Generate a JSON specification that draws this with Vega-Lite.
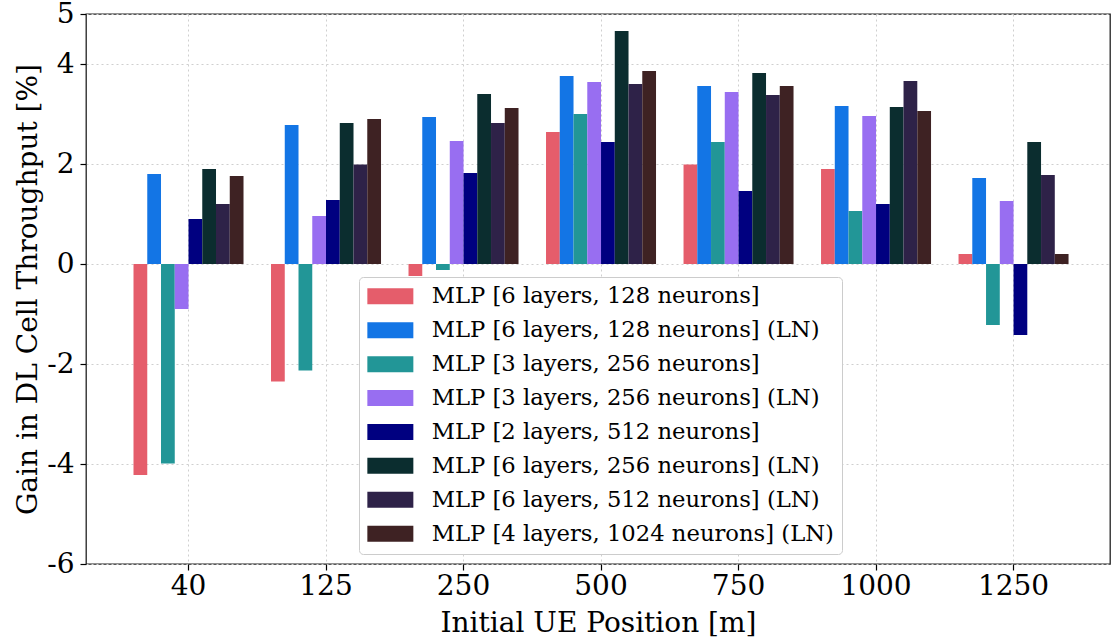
{
  "$schema": "https://vega.github.io/schema/vega-lite/v6.json",
  "width": 1024,
  "height": 550,
  "autosize": {"type": "none"},
  "padding": {"left": 86, "top": 14, "right": 1, "bottom": 76},
  "background": "white",
  "config": {
    "font": "DejaVu Serif",
    "view": {"stroke": "#222222", "strokeWidth": 1.3},
    "axis": {
      "labelFont": "DejaVu Serif",
      "titleFont": "DejaVu Serif",
      "labelFontSize": 28,
      "titleFontSize": 28,
      "titleFontWeight": "normal",
      "labelColor": "#000000",
      "titleColor": "#000000",
      "tickColor": "#000000",
      "domainColor": "#000000",
      "gridColor": "#cfcfcf",
      "gridDash": [2, 3],
      "gridWidth": 1,
      "tickSize": 6,
      "tickWidth": 1.2,
      "domain": false
    },
    "legend": {
      "labelFont": "DejaVu Serif",
      "labelFontSize": 22.7,
      "labelColor": "#000000"
    }
  },
  "data": {
    "values": [
      {"pos": "40", "model": "MLP [6 layers, 128 neurons]", "gain": -4.22},
      {"pos": "40", "model": "MLP [6 layers, 128 neurons] (LN)", "gain": 1.8},
      {"pos": "40", "model": "MLP [3 layers, 256 neurons]", "gain": -3.99},
      {"pos": "40", "model": "MLP [3 layers, 256 neurons] (LN)", "gain": -0.9},
      {"pos": "40", "model": "MLP [2 layers, 512 neurons]", "gain": 0.9},
      {"pos": "40", "model": "MLP [6 layers, 256 neurons] (LN)", "gain": 1.9},
      {"pos": "40", "model": "MLP [6 layers, 512 neurons] (LN)", "gain": 1.2},
      {"pos": "40", "model": "MLP [4 layers, 1024 neurons] (LN)", "gain": 1.76},

      {"pos": "125", "model": "MLP [6 layers, 128 neurons]", "gain": -2.35},
      {"pos": "125", "model": "MLP [6 layers, 128 neurons] (LN)", "gain": 2.78},
      {"pos": "125", "model": "MLP [3 layers, 256 neurons]", "gain": -2.13},
      {"pos": "125", "model": "MLP [3 layers, 256 neurons] (LN)", "gain": 0.96},
      {"pos": "125", "model": "MLP [2 layers, 512 neurons]", "gain": 1.28},
      {"pos": "125", "model": "MLP [6 layers, 256 neurons] (LN)", "gain": 2.82},
      {"pos": "125", "model": "MLP [6 layers, 512 neurons] (LN)", "gain": 1.99},
      {"pos": "125", "model": "MLP [4 layers, 1024 neurons] (LN)", "gain": 2.9},

      {"pos": "250", "model": "MLP [6 layers, 128 neurons]", "gain": -0.24},
      {"pos": "250", "model": "MLP [6 layers, 128 neurons] (LN)", "gain": 2.94},
      {"pos": "250", "model": "MLP [3 layers, 256 neurons]", "gain": -0.12},
      {"pos": "250", "model": "MLP [3 layers, 256 neurons] (LN)", "gain": 2.46},
      {"pos": "250", "model": "MLP [2 layers, 512 neurons]", "gain": 1.82},
      {"pos": "250", "model": "MLP [6 layers, 256 neurons] (LN)", "gain": 3.4},
      {"pos": "250", "model": "MLP [6 layers, 512 neurons] (LN)", "gain": 2.82},
      {"pos": "250", "model": "MLP [4 layers, 1024 neurons] (LN)", "gain": 3.12},

      {"pos": "500", "model": "MLP [6 layers, 128 neurons]", "gain": 2.64},
      {"pos": "500", "model": "MLP [6 layers, 128 neurons] (LN)", "gain": 3.76},
      {"pos": "500", "model": "MLP [3 layers, 256 neurons]", "gain": 3.0},
      {"pos": "500", "model": "MLP [3 layers, 256 neurons] (LN)", "gain": 3.64},
      {"pos": "500", "model": "MLP [2 layers, 512 neurons]", "gain": 2.44},
      {"pos": "500", "model": "MLP [6 layers, 256 neurons] (LN)", "gain": 4.66},
      {"pos": "500", "model": "MLP [6 layers, 512 neurons] (LN)", "gain": 3.6},
      {"pos": "500", "model": "MLP [4 layers, 1024 neurons] (LN)", "gain": 3.86},

      {"pos": "750", "model": "MLP [6 layers, 128 neurons]", "gain": 1.99},
      {"pos": "750", "model": "MLP [6 layers, 128 neurons] (LN)", "gain": 3.56},
      {"pos": "750", "model": "MLP [3 layers, 256 neurons]", "gain": 2.44},
      {"pos": "750", "model": "MLP [3 layers, 256 neurons] (LN)", "gain": 3.44},
      {"pos": "750", "model": "MLP [2 layers, 512 neurons]", "gain": 1.46},
      {"pos": "750", "model": "MLP [6 layers, 256 neurons] (LN)", "gain": 3.82},
      {"pos": "750", "model": "MLP [6 layers, 512 neurons] (LN)", "gain": 3.38},
      {"pos": "750", "model": "MLP [4 layers, 1024 neurons] (LN)", "gain": 3.56},

      {"pos": "1000", "model": "MLP [6 layers, 128 neurons]", "gain": 1.9},
      {"pos": "1000", "model": "MLP [6 layers, 128 neurons] (LN)", "gain": 3.16},
      {"pos": "1000", "model": "MLP [3 layers, 256 neurons]", "gain": 1.06},
      {"pos": "1000", "model": "MLP [3 layers, 256 neurons] (LN)", "gain": 2.96},
      {"pos": "1000", "model": "MLP [2 layers, 512 neurons]", "gain": 1.2},
      {"pos": "1000", "model": "MLP [6 layers, 256 neurons] (LN)", "gain": 3.14},
      {"pos": "1000", "model": "MLP [6 layers, 512 neurons] (LN)", "gain": 3.66},
      {"pos": "1000", "model": "MLP [4 layers, 1024 neurons] (LN)", "gain": 3.06},

      {"pos": "1250", "model": "MLP [6 layers, 128 neurons]", "gain": 0.2},
      {"pos": "1250", "model": "MLP [6 layers, 128 neurons] (LN)", "gain": 1.72},
      {"pos": "1250", "model": "MLP [3 layers, 256 neurons]", "gain": -1.22},
      {"pos": "1250", "model": "MLP [3 layers, 256 neurons] (LN)", "gain": 1.26},
      {"pos": "1250", "model": "MLP [2 layers, 512 neurons]", "gain": -1.42},
      {"pos": "1250", "model": "MLP [6 layers, 256 neurons] (LN)", "gain": 2.44},
      {"pos": "1250", "model": "MLP [6 layers, 512 neurons] (LN)", "gain": 1.78},
      {"pos": "1250", "model": "MLP [4 layers, 1024 neurons] (LN)", "gain": 0.2}
    ]
  },
  "mark": {"type": "bar", "clip": true},
  "encoding": {
    "x": {
      "field": "pos",
      "type": "ordinal",
      "sort": ["40", "125", "250", "500", "750", "1000", "1250"],
      "scale": {"paddingInner": 0.2, "paddingOuter": 0.3235, "align": 0.534},
      "axis": {
        "title": "Initial UE Position [m]",
        "labelAngle": 0,
        "grid": true,
        "bandPosition": 0.5,
        "labelPadding": 2,
        "titlePadding": 9
      }
    },
    "xOffset": {
      "field": "model",
      "type": "nominal",
      "sort": [
        "MLP [6 layers, 128 neurons]",
        "MLP [6 layers, 128 neurons] (LN)",
        "MLP [3 layers, 256 neurons]",
        "MLP [3 layers, 256 neurons] (LN)",
        "MLP [2 layers, 512 neurons]",
        "MLP [6 layers, 256 neurons] (LN)",
        "MLP [6 layers, 512 neurons] (LN)",
        "MLP [4 layers, 1024 neurons] (LN)"
      ],
      "scale": {"paddingInner": 0, "paddingOuter": 0}
    },
    "y": {
      "field": "gain",
      "type": "quantitative",
      "scale": {"domain": [-6, 5], "nice": false, "zero": false},
      "axis": {
        "title": "Gain in DL Cell Throughput [%]",
        "values": [-6, -4, -2, 0, 2, 4, 5],
        "labelExpr": "toString(datum.value)",
        "grid": true,
        "labelPadding": 6,
        "titlePadding": 4
      }
    },
    "color": {
      "field": "model",
      "type": "nominal",
      "scale": {
        "domain": [
          "MLP [6 layers, 128 neurons]",
          "MLP [6 layers, 128 neurons] (LN)",
          "MLP [3 layers, 256 neurons]",
          "MLP [3 layers, 256 neurons] (LN)",
          "MLP [2 layers, 512 neurons]",
          "MLP [6 layers, 256 neurons] (LN)",
          "MLP [6 layers, 512 neurons] (LN)",
          "MLP [4 layers, 1024 neurons] (LN)"
        ],
        "range": ["#E55D6B", "#1375E5", "#229697", "#986EF1", "#000080", "#0B2D2F", "#2E2248", "#3E2223"]
      },
      "legend": {
        "title": null,
        "orient": "none",
        "legendX": 273,
        "legendY": 263,
        "symbolType": "M-2.2,-1.6L7,-1.6L7,1.6L-2.2,1.6Z",
        "symbolSize": 100,
        "symbolStrokeWidth": 0,
        "symbolOpacity": 1,
        "labelOffset": 42,
        "rowPadding": 9.9,
        "padding": 8,
        "fillColor": "white",
        "strokeColor": "#cccccc",
        "cornerRadius": 4,
        "labelLimit": 500
      }
    }
  }
}
